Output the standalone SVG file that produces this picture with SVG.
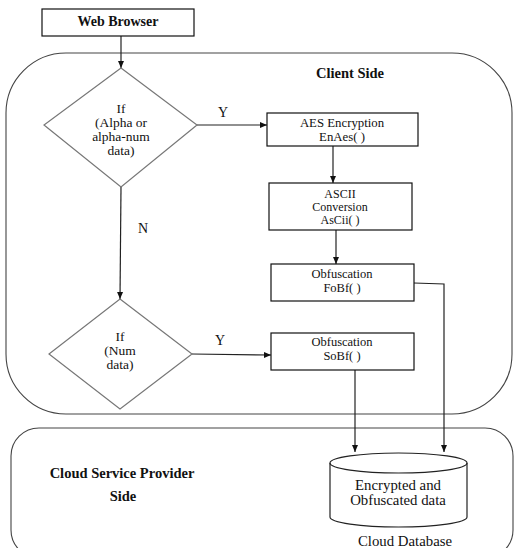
<svg xmlns="http://www.w3.org/2000/svg" width="514" height="548" viewBox="0 0 514 548">
<defs>
<marker id="ah" markerWidth="8" markerHeight="8" refX="7" refY="4" orient="auto" markerUnits="userSpaceOnUse">
<path d="M0,1 L7,4 L0,7 Z" fill="#111"/>
</marker>
<style>
text{font-family:'Liberation Serif','DejaVu Serif',serif;fill:#111;text-anchor:middle}
.b{font-weight:bold}
.box{fill:#fff;stroke:#111;stroke-width:1.2}
.dia{fill:#fff;stroke:#777;stroke-width:1.2}
.area{fill:none;stroke:#444;stroke-width:1.1}
.ln{fill:none;stroke:#222;stroke-width:1.2}
</style>
</defs>
<rect width="514" height="548" fill="#fff"/>
<g id="client-side">
<rect class="area" x="6" y="53" width="506" height="361" rx="60" ry="60"/>
<text class="b" x="350" y="78" font-size="14.5">Client Side</text>
</g>
<g id="cloud-side">
<rect class="area" x="11" y="428" width="502" height="130" rx="28" ry="28"/>
<text class="b" x="122" y="478" font-size="14.5">Cloud Service Provider</text>
<text class="b" x="123" y="501" font-size="14.5">Side</text>
</g>
<g id="connectors">
<line class="ln" x1="121" y1="36" x2="121" y2="68" marker-end="url(#ah)"/>
<line class="ln" x1="197" y1="125" x2="267" y2="125" marker-end="url(#ah)"/>
<line class="ln" x1="333" y1="146" x2="333" y2="183" marker-end="url(#ah)"/>
<line class="ln" x1="336" y1="230" x2="336" y2="264" marker-end="url(#ah)"/>
<line class="ln" x1="121" y1="187" x2="120" y2="299" marker-end="url(#ah)"/>
<line class="ln" x1="192" y1="354" x2="271" y2="355" marker-end="url(#ah)"/>
<polyline class="ln" points="414,283 444,284 444,452" marker-end="url(#ah)"/>
<line class="ln" x1="355" y1="370" x2="355" y2="452" marker-end="url(#ah)"/>
<text x="223" y="117" font-size="14">Y</text>
<text x="143" y="233" font-size="14">N</text>
<text x="220" y="345" font-size="14">Y</text>
</g>
<g id="web-browser">
<rect class="box" x="42" y="9" width="152" height="27"/>
<text class="b" x="118" y="26" font-size="14">Web Browser</text>
</g>
<g id="if-alpha">
<polygon class="dia" points="121,68 197,125 121,187 44,125"/>
<text font-size="13.5"><tspan x="121" y="113">If</tspan><tspan x="121" y="127">(Alpha or</tspan><tspan x="121" y="141">alpha-num</tspan><tspan x="121" y="155">data)</tspan></text>
</g>
<g id="aes">
<rect class="box" x="267" y="113" width="151" height="33"/>
<text font-size="12.8"><tspan x="342" y="127">AES Encryption</tspan><tspan x="342" y="141">EnAes( )</tspan></text>
</g>
<g id="ascii">
<rect class="box" x="269" y="183" width="143" height="47"/>
<text font-size="12"><tspan x="340" y="198">ASCII</tspan><tspan x="340" y="211">Conversion</tspan><tspan x="340" y="224">AsCii( )</tspan></text>
</g>
<g id="fobf">
<rect class="box" x="271" y="264" width="143" height="37"/>
<text font-size="12.5"><tspan x="342" y="278">Obfuscation</tspan><tspan x="342" y="292">FoBf( )</tspan></text>
</g>
<g id="if-num">
<polygon class="dia" points="120,299 192,354 120,409 49,354"/>
<text font-size="13.5"><tspan x="120" y="341">If</tspan><tspan x="120" y="355">(Num</tspan><tspan x="120" y="369">data)</tspan></text>
</g>
<g id="sobf">
<rect class="box" x="271" y="333" width="143" height="37"/>
<text font-size="12.5"><tspan x="342" y="346">Obfuscation</tspan><tspan x="342" y="360">SoBf( )</tspan></text>
</g>
<g id="cloud-db">
<path class="ln" d="M330,463 L330,517 A68.5,10 0 0 0 467,517 L467,463" fill="#fff"/>
<ellipse class="ln" cx="398.5" cy="463" rx="68.5" ry="10" fill="#fff"/>
<text font-size="14.8"><tspan x="398" y="490">Encrypted and</tspan><tspan x="398" y="505">Obfuscated data</tspan></text>
<text x="405" y="546" font-size="14.8">Cloud Database</text>
</g>
</svg>
